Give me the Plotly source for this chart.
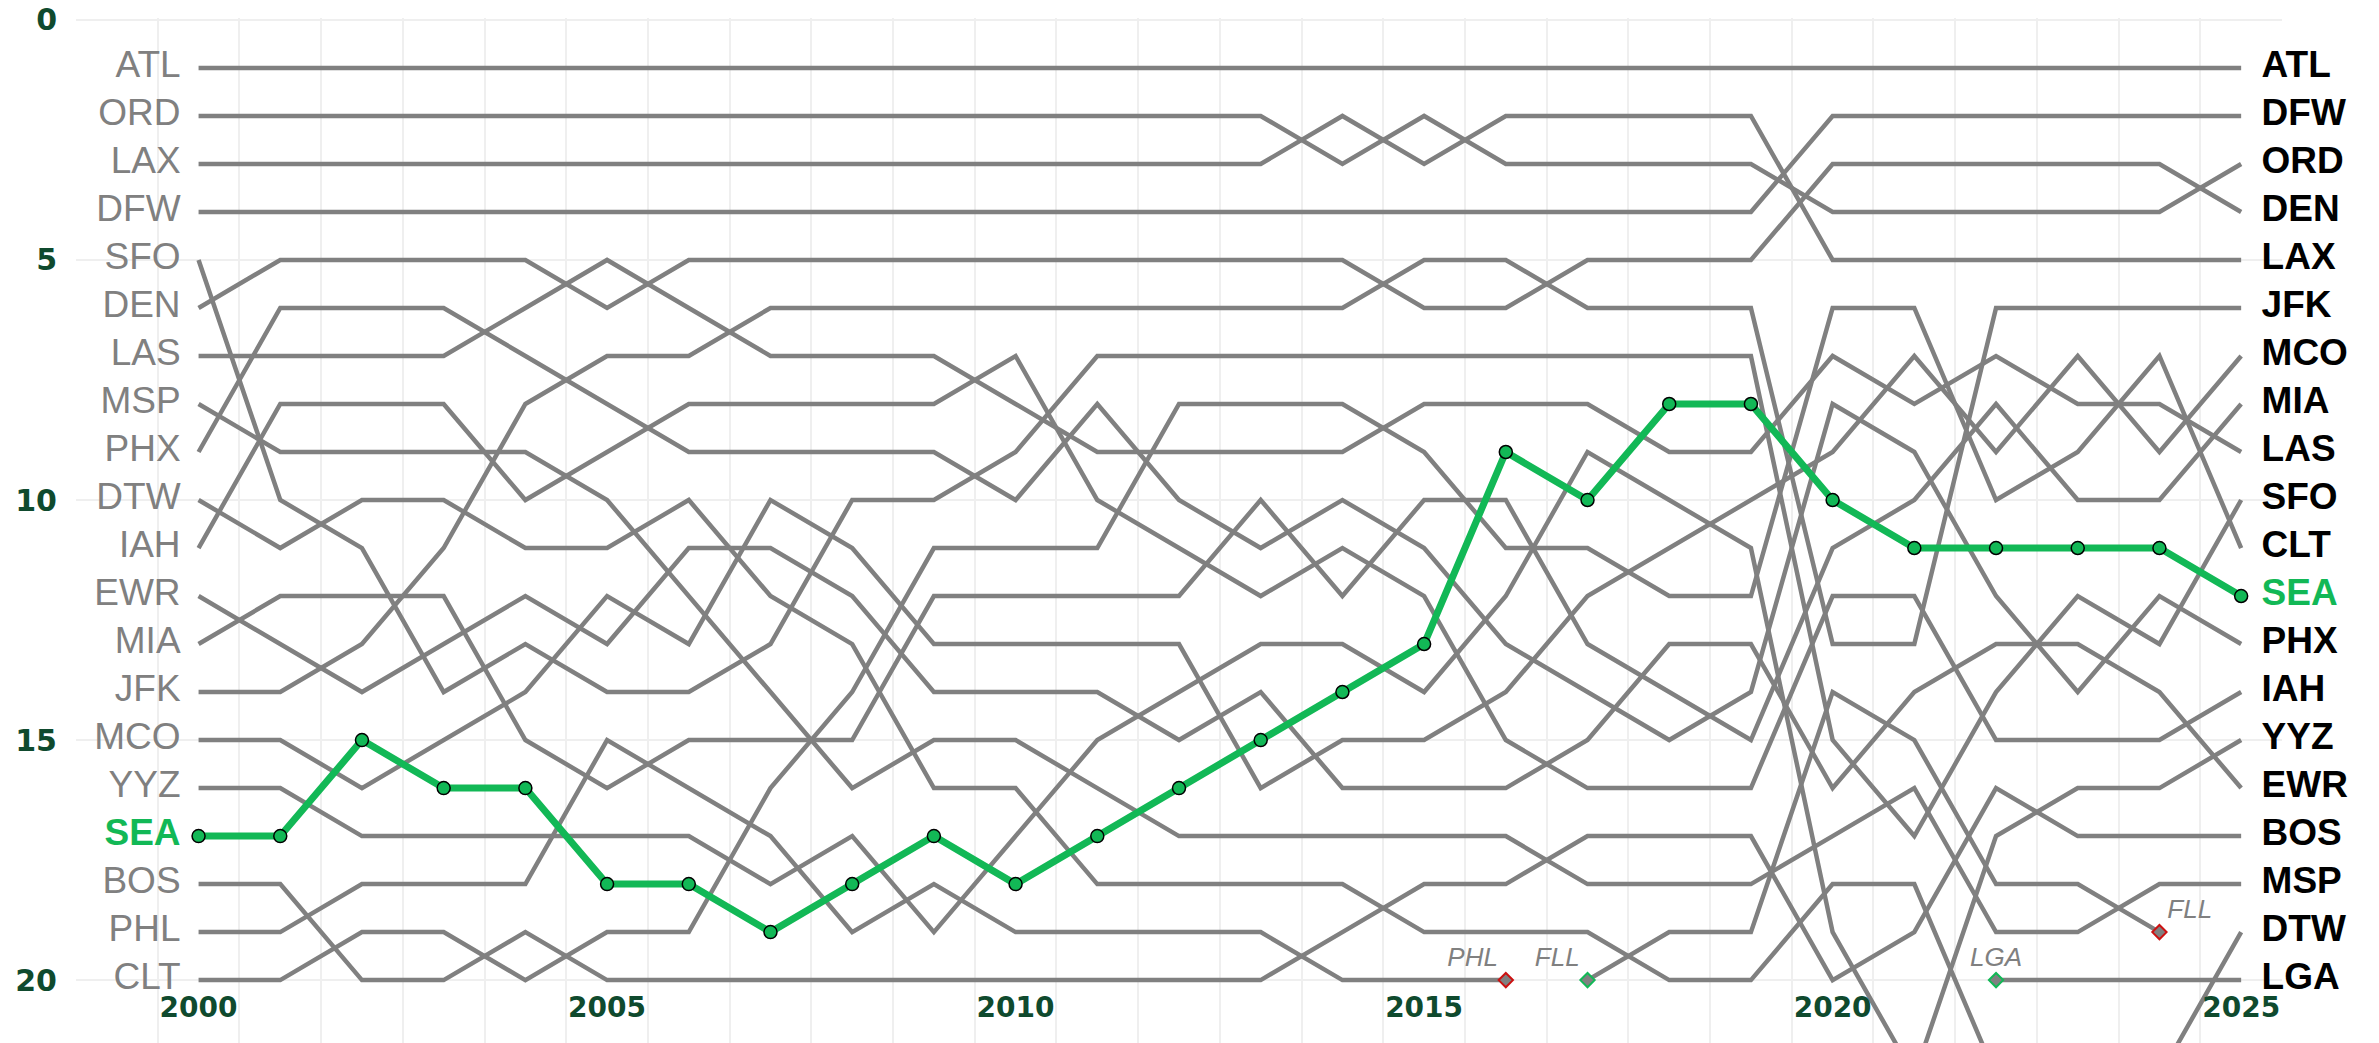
import plotly.graph_objects as go

years = list(range(2000, 2026))

# Rank of each airport per year (2000..2025); None = not in the top list
ATL = [1, 1, 1, 1, 1, 1, 1, 1, 1, 1, 1, 1, 1, 1, 1, 1, 1, 1, 1, 1, 1, 1, 1, 1, 1, 1]
ORD = [2, 2, 2, 2, 2, 2, 2, 2, 2, 2, 2, 2, 2, 2, 3, 2, 3, 3, 3, 3, 4, 4, 4, 4, 4, 3]
LAX = [3, 3, 3, 3, 3, 3, 3, 3, 3, 3, 3, 3, 3, 3, 2, 3, 2, 2, 2, 2, 5, 5, 5, 5, 5, 5]
DFW = [4, 4, 4, 4, 4, 4, 4, 4, 4, 4, 4, 4, 4, 4, 4, 4, 4, 4, 4, 4, 2, 2, 2, 2, 2, 2]
DEN = [6, 5, 5, 5, 5, 6, 5, 5, 5, 5, 5, 5, 5, 5, 5, 6, 6, 5, 5, 5, 3, 3, 3, 3, 3, 4]
JFK = [14, 14, 13, 11, 8, 7, 7, 6, 6, 6, 6, 6, 6, 6, 6, 5, 5, 6, 6, 6, 13, 13, 6, 6, 6, 6]
SFO = [5, 10, 11, 14, 13, 14, 14, 13, 10, 10, 9, 7, 7, 7, 7, 7, 7, 7, 7, 7, 15, 17, 14, 12, 13, 10]
LAS = [7, 7, 7, 7, 6, 5, 6, 7, 7, 7, 8, 9, 9, 9, 9, 8, 8, 8, 9, 9, 7, 8, 7, 8, 8, 9]
MSP = [8, 9, 9, 9, 9, 10, 12, 14, 16, 15, 15, 16, 17, 17, 17, 17, 17, 18, 18, 18, 17, 16, 19, 19, 18, 18]
PHX = [9, 6, 6, 6, 7, 8, 9, 9, 9, 9, 10, 8, 10, 11, 10, 11, 13, 14, 15, 14, 8, 9, 12, 14, 12, 13]
DTW = [10, 11, 10, 10, 11, 11, 10, 12, 13, 16, 16, 18, 18, 18, 18, 19, 19, 19, 20, 20, 18, 18, 22, 22, 22, 19]
IAH = [11, 8, 8, 8, 10, 9, 8, 8, 8, 8, 7, 10, 11, 12, 11, 12, 15, 16, 16, 16, 12, 12, 15, 15, 15, 14]
EWR = [12, 13, 14, 13, 12, 13, 11, 11, 12, 14, 14, 14, 15, 14, 16, 16, 16, 15, 13, 13, 16, 14, 13, 13, 14, 16]
MIA = [13, 12, 12, 12, 15, 16, 15, 15, 15, 12, 12, 12, 12, 10, 12, 10, 10, 13, 14, 15, 11, 10, 8, 10, 10, 8]
MCO = [15, 15, 16, 15, 14, 12, 13, 10, 11, 13, 13, 13, 13, 16, 15, 15, 14, 12, 11, 10, 9, 7, 9, 7, 9, 7]
YYZ = [16, 16, 17, 17, 17, 17, 17, 18, 17, 19, 17, 15, 14, 13, 13, 14, 12, 9, 10, 11, 19, 22, 17, 16, 16, 15]
SEA = [17, 17, 15, 16, 16, 18, 18, 19, 18, 17, 18, 17, 16, 15, 14, 13, 9, 10, 8, 8, 10, 11, 11, 11, 11, 12]
BOS = [18, 18, 20, 20, 19, 20, 20, 20, 20, 20, 20, 20, 20, 20, 19, 18, 18, 17, 17, 17, 20, 19, 16, 17, 17, 17]
PHL = [19, 19, 18, 18, 18, 15, 16, 17, 19, 18, 19, 19, 19, 19, 20, 20, 20,
       None, None, None, None, None, None, None, None, None]
CLT = [20, 20, 19, 19, 20, 19, 19, 16, 14, 11, 11, 11, 8, 8, 8, 9, 11, 11, 12, 12, 6, 6, 10, 9, 7, 11]
FLL = [None, None, None, None, None, None, None, None, None, None, None, None, None, None, None, None, None,
       20, 19, 19, 14, 15, 18, 18, 19, None]
LGA = [None, None, None, None, None, None, None, None, None, None, None, None, None, None, None, None, None,
       None, None, None, None, None, 20, 20, 20, 20]

series = {
    "ATL": ATL, "ORD": ORD, "LAX": LAX, "DFW": DFW, "DEN": DEN, "JFK": JFK,
    "SFO": SFO, "LAS": LAS, "MSP": MSP, "PHX": PHX, "DTW": DTW, "IAH": IAH,
    "EWR": EWR, "MIA": MIA, "MCO": MCO, "YYZ": YYZ, "SEA": SEA, "BOS": BOS,
    "PHL": PHL, "CLT": CLT, "FLL": FLL, "LGA": LGA,
}
HIGHLIGHT = "SEA"

# entry / exit events
event_names = ["PHL", "FLL", "LGA", "FLL"]
event_years = [2016, 2017, 2022, 2024]
event_ranks = [20, 20, 20, 19]
event_kinds = ["exit", "entry", "entry", "exit"]
event_textpos = ["top left", "top left", "top center", "top right"]

y_ticks = [0, 5, 10, 15, 20]
x_ticks = [2000, 2005, 2010, 2015, 2020, 2025]

GREY = "#808080"
GREEN = "#12b856"
TICK_COLOR = "#0f4a2e"
LABEL_FONT = "Liberation Sans, Arial, sans-serif"
TICK_FONT = "DejaVu Sans, Verdana, sans-serif"

fig = go.Figure()

for name, ranks in series.items():
    if name == HIGHLIGHT:
        continue
    fig.add_trace(go.Scatter(
        x=years, y=ranks, mode="lines", name=name,
        line=dict(color=GREY, width=4.5), connectgaps=False,
        hoverinfo="skip", showlegend=False,
    ))

fig.add_trace(go.Scatter(
    x=years, y=series[HIGHLIGHT], mode="lines+markers", name=HIGHLIGHT,
    line=dict(color=GREEN, width=7),
    marker=dict(size=13, color=GREEN, line=dict(color="black", width=1.5)),
    showlegend=False, hoverinfo="skip",
))

# entry / exit markers
for nm, yr, rk, kind, tp in zip(event_names, event_years, event_ranks, event_kinds, event_textpos):
    edge = "#cc1111" if kind == "exit" else GREEN
    mk = dict(symbol="diamond", size=11, color=GREY, line=dict(color=edge, width=2))
    fig.add_trace(go.Scatter(
        x=[yr], y=[rk], mode="markers+text", text=[nm], textposition=tp,
        textfont=dict(family=LABEL_FONT, size=26, color=GREY, style="italic"),
        marker=mk, showlegend=False, hoverinfo="skip", cliponaxis=False,
    ))

# left labels (first year order) and right labels (last year order)
first_year, last_year = years[0], years[-1]
left_names, left_ranks, right_names, right_ranks = [], [], [], []
for name, ranks in series.items():
    if ranks[0] is not None and ranks[0] <= 20:
        left_names.append(name)
        left_ranks.append(ranks[0])
    if ranks[-1] is not None and ranks[-1] <= 20:
        right_names.append(name)
        right_ranks.append(ranks[-1])

LOFF = 0.22
ROFF = 0.25
for names, ranks, xpos, tpos, normal_color, weight in [
    (left_names, left_ranks, first_year - LOFF, "middle left", GREY, "normal"),
    (right_names, right_ranks, last_year + ROFF, "middle right", "black", "bold"),
]:
    n_other = [n for n in names if n != HIGHLIGHT]
    r_other = [r for n, r in zip(names, ranks) if n != HIGHLIGHT]
    fig.add_trace(go.Scatter(
        x=[xpos] * len(n_other), y=r_other, text=n_other, mode="text",
        textposition=tpos,
        textfont=dict(family=LABEL_FONT, size=37, color=normal_color, weight=weight),
        showlegend=False, hoverinfo="skip", cliponaxis=False,
    ))
    h_r = [r for n, r in zip(names, ranks) if n == HIGHLIGHT]
    if h_r:
        fig.add_trace(go.Scatter(
            x=[xpos], y=h_r, text=[HIGHLIGHT], mode="text", textposition=tpos,
            textfont=dict(family=LABEL_FONT, size=37, color=GREEN, weight="bold"),
            showlegend=False, hoverinfo="skip", cliponaxis=False,
        ))

fig.update_layout(
    width=2379, height=1043,
    margin=dict(l=76, r=97, t=18, b=0, autoexpand=False),
    paper_bgcolor="white", plot_bgcolor="white",
    showlegend=False,
    xaxis=dict(
        range=[1998.5, 2025.5], automargin=False,
        tickmode="array", tickvals=x_ticks, ticktext=[str(v) for v in x_ticks],
        showgrid=False, zeroline=False, showline=False, ticks="",
        tickfont=dict(family=TICK_FONT, size=28, color=TICK_COLOR, weight="bold"),
        ticklabelposition="inside", ticklabelstandoff=17,
        minor=dict(tickmode="linear", tick0=1998.5, dtick=1, showgrid=True,
                   gridcolor="#efefef", gridwidth=2, ticks=""),
    ),
    yaxis=dict(
        range=[21.31, -0.04], automargin=False,
        tickmode="array", tickvals=y_ticks, ticktext=[str(v) for v in y_ticks],
        showgrid=True, gridcolor="#efefef", gridwidth=2,
        zeroline=False, showline=False, ticks="",
        tickfont=dict(family=TICK_FONT, size=30, color=TICK_COLOR, weight="bold"),
        ticklabelstandoff=18,
    ),
)

# remove the default page margin so the figure fills the window exactly
fig.write_html(
    "out.html",
    config={"displayModeBar": False},
    post_script="document.body.style.margin='0px';document.documentElement.style.overflow='hidden';",
)
